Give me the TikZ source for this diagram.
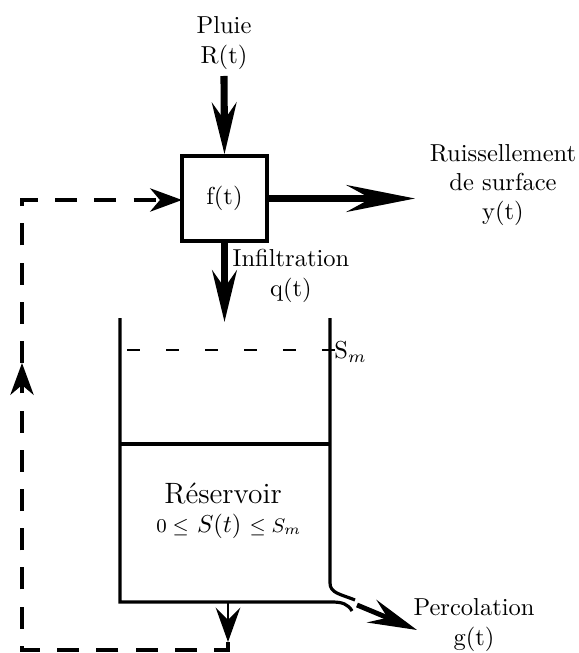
\documentclass[tikz,border=0pt]{standalone}
\usepackage{fontspec}
\usetikzlibrary{arrows.meta}
\tikzset{
  bigarrow/.style={line width=2.9pt,-{Stealth[length=21pt,width=10pt,inset=7pt]}},
  longarrow/.style={line width=2.9pt,-{Stealth[length=28pt,width=11pt,inset=10pt]}},
  percarrow/.style={line width=2pt,-{Stealth[length=20pt,width=10pt,inset=7pt]}},
  thinarrow/.style={line width=1.2pt,-{Stealth[length=14pt,width=10pt,inset=5pt]}},
  wall/.style={line width=1.3pt},
  loopline/.style={line width=1.4pt,dash pattern=on 9pt off 7pt},
  looparrow/.style={loopline,-{Stealth[length=13pt,width=9.5pt,inset=4pt]}},
  smline/.style={line width=1.2pt,dash pattern=on 5.3pt off 10.6pt,dash phase=13pt},
  lbl/.style={align=center,inner sep=0pt},
  fbox/.style={draw,line width=1.6pt,minimum size=34.5pt,inner sep=0pt}
}
\begin{document}
\begin{tikzpicture}[x=0.408pt,y=-0.408pt]
\useasboundingbox (0,0) rectangle (578,653);
% labels
\node[lbl] (pluie) at (224,43) {Pluie\\R(t)};
\node[fbox] (f) at (224.5,198.5) {f(t)};
\node[lbl] (ruis) at (503,185) {Ruissellement\\de surface\\y(t)};
\node[lbl] (infil) at (291,276) {Infiltration\\q(t)};
\node[lbl,anchor=west] (sm) at (334,352) {S$_m$};
\node[lbl] (res) at (223,494) {\large R\'eservoir};
\node[lbl] (eq) at (229,526) {{\footnotesize$0\leq$} {$S(t)$} {\footnotesize$\leq S_m$}};
\node[lbl] (perc) at (474,625) {Percolation\\g(t)};
% coordinates
\coordinate (rtop) at (224,76);
\coordinate (rend) at (415,198.5);
\coordinate (qend) at (224.5,322);
\coordinate (lwtop) at (120,318);
\coordinate (lwbot) at (120,602);
\coordinate (rwtop) at (330,318);
\coordinate (rwbend) at (330,583);
\coordinate (outtop) at (355,600);
\coordinate (botbend) at (332,602);
\coordinate (outbot) at (352,611);
\coordinate (pstart) at (357,605);
\coordinate (pend) at (417,630);
\coordinate (mid) at (120,444);
\coordinate (midr) at (330,444);
\coordinate (sml) at (120,350);
\coordinate (smr) at (336,350);
\coordinate (bstart) at (228,602);
\coordinate (bend) at (228,642);
\coordinate (c1) at (228,650);
\coordinate (c2) at (22,650);
\coordinate (c3) at (22,363);
\coordinate (c4) at (22,200);
\coordinate (c5) at (182,200);
% arrows into/out of box
\draw[bigarrow] (rtop) -- (f.north);
\draw[longarrow] (f.east) -- (rend);
\draw[bigarrow] (f.south) -- (qend);
% reservoir
\draw[wall] (rwtop) -- (rwbend) .. controls (330,593) and (340,594) .. (outtop);
\draw[wall] (lwtop) -- (lwbot) -- (botbend) .. controls (342,602) and (348,604) .. (outbot);
\draw[wall] (mid) -- (midr);
\draw[smline] (sml) -- (smr);
\draw[percarrow] (pstart) -- (pend);
% bottom outlet and feedback loop
\draw[thinarrow] (bstart) -- (bend);
\draw[looparrow] (bend) -- (c1) -- (c2) -- (c3);
\draw[looparrow] (c3) -- (c4) -- (c5);
\end{tikzpicture}
\end{document}
